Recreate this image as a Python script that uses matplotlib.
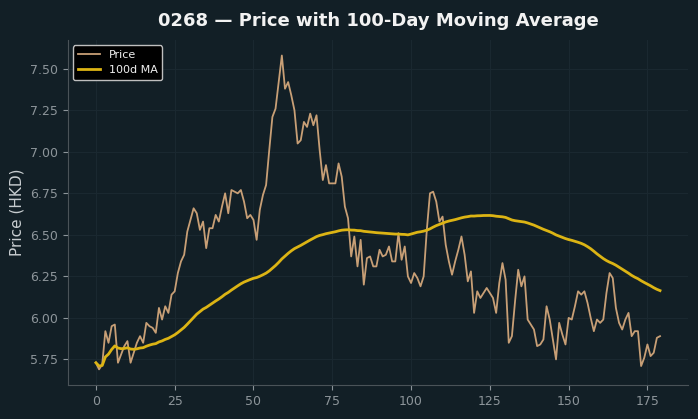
import pandas as pd
import matplotlib.pyplot as plt

# closing prices (day 0..179)
price = [5.73, 5.69, 5.72, 5.92, 5.85, 5.95, 5.96, 5.73, 5.78, 5.83,
         5.86, 5.73, 5.79, 5.85, 5.89, 5.85, 5.97, 5.95, 5.94, 5.91,
         6.06, 5.99, 6.07, 6.03, 6.14, 6.16, 6.27, 6.34, 6.38, 6.52,
         6.59, 6.66, 6.63, 6.53, 6.58, 6.42, 6.54, 6.54, 6.62, 6.58,
         6.67, 6.75, 6.63, 6.77, 6.76, 6.75, 6.77, 6.70, 6.60, 6.62,
         6.59, 6.47, 6.65, 6.74, 6.80, 7.01, 7.21, 7.26, 7.42, 7.58,
         7.38, 7.42, 7.34, 7.25, 7.05, 7.07, 7.18, 7.15, 7.23, 7.16,
         7.22, 7.01, 6.83, 6.92, 6.81, 6.81, 6.81, 6.93, 6.85, 6.67,
         6.60, 6.37, 6.49, 6.31, 6.47, 6.20, 6.36, 6.37, 6.31, 6.31,
         6.41, 6.37, 6.38, 6.43, 6.34, 6.34, 6.51, 6.35, 6.43, 6.25,
         6.21, 6.27, 6.24, 6.19, 6.25, 6.53, 6.75, 6.76, 6.70, 6.58,
         6.61, 6.44, 6.34, 6.26, 6.34, 6.41, 6.49, 6.38, 6.22, 6.28,
         6.03, 6.16, 6.12, 6.15, 6.18, 6.15, 6.12, 6.03, 6.21, 6.33,
         6.23, 5.85, 5.89, 6.10, 6.29, 6.19, 6.25, 5.99, 5.96, 5.93,
         5.83, 5.84, 5.87, 6.07, 5.99, 5.87, 5.75, 5.97, 5.90, 5.84,
         6.00, 5.99, 6.07, 6.16, 6.14, 6.16, 6.09, 6.00, 5.92, 5.99,
         5.97, 5.99, 6.15, 6.27, 6.24, 6.06, 5.97, 5.93, 5.99, 6.03,
         5.89, 5.92, 5.92, 5.71, 5.76, 5.84, 5.77, 5.79, 5.88, 5.89]

days = list(range(len(price)))
ma_window = 100

df = pd.DataFrame({'day': days, 'price': price})
df['ma'] = df['price'].rolling(ma_window, min_periods=1).mean()

bg = '#121f26'
fig = plt.figure(figsize=(6.98, 4.19), dpi=100, facecolor=bg)
ax = plt.subplot()
ax.set_facecolor(bg)
plt.subplots_adjust(left=0.097, right=0.986, top=0.905, bottom=0.081)

plt.plot(df['day'], df['price'], color='#c89f76', linewidth=1.3, label='Price')
plt.plot(df['day'], df['ma'], color='#dcb414', linewidth=2.0, label='100d MA')

plt.title('0268 \u2014 Price with 100-Day Moving Average', color='#f2f2f2',
          fontsize=13, fontweight='bold', pad=10)
plt.ylabel('Price (HKD)', color='#c8cdd0', fontsize=11)
plt.grid(True, color='#1a2830', linewidth=0.8)
ax.set_axisbelow(True)

for side in ['top', 'right']:
  ax.spines[side].set_visible(False)
for side in ['left', 'bottom']:
  ax.spines[side].set_color('#4a5358')
ax.tick_params(colors='#8d959a', labelsize=9)

leg = plt.legend(loc='upper left', fontsize=8, facecolor='black', edgecolor='#bfbfbf',
                 framealpha=1.0)
for t in leg.get_texts():
  t.set_color('#f0f0f0')

plt.savefig('out.png', dpi=100, facecolor=bg)
